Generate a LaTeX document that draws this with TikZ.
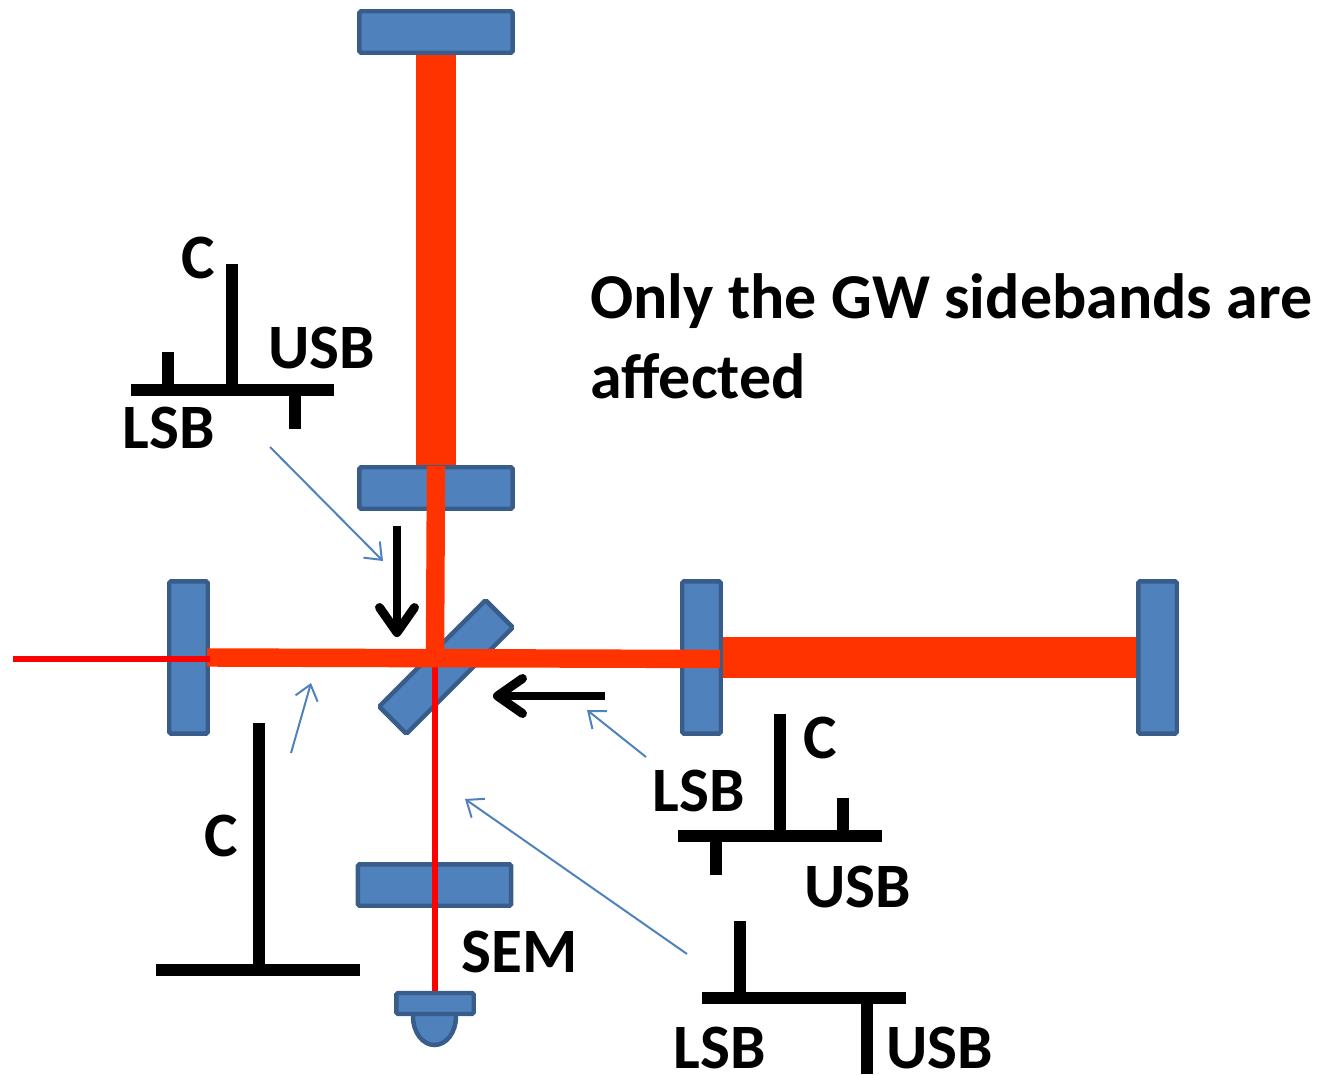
\documentclass[tikz,border=0pt]{standalone}
\usepackage{fontspec}
\setmainfont{Carlito}
\usetikzlibrary{arrows.meta}
\definecolor{mirrorfill}{HTML}{4F81BD}
\definecolor{mirrorline}{HTML}{385D8A}
\definecolor{beamorange}{HTML}{FF3300}
\begin{document}
\begin{tikzpicture}[
    x=0.02cm, y=-0.02cm,
    mirror/.style={rectangle, draw=mirrorline, fill=mirrorfill, line width=4.5*0.567pt, inner sep=0pt, rounded corners=1pt},
    hmirror/.style={mirror, minimum width=3.07cm, minimum height=0.83cm},
    vmirror/.style={mirror, minimum width=0.77cm, minimum height=3.05cm},
    armbeam/.style={beamorange, line width=41*0.567pt},
    cavbeam/.style={beamorange, line width=18.5*0.567pt},
    thinbeam/.style={red, line width=6*0.567pt},
    spec/.style={black, line width=11.5*0.567pt},
    bigarrow/.style={-{Straight Barb[length=5mm, width=7mm, round]}, black, line width=9*0.567pt},
    pointer/.style={-{Straight Barb[length=2.9mm, width=4.6mm]}, mirrorfill, line width=2*0.567pt},
    label/.style={font=\fontsize{36}{42}\selectfont\bfseries, inner sep=0pt},
    note/.style={font=\fontsize{36.4}{42}\selectfont\bfseries, inner sep=0pt, anchor=west}
]
\useasboundingbox (0,0) rectangle (1320,1075);

% Mirrors
\node[hmirror] (etmy) at (436,32) {};
\node[hmirror] (itmy) at (436,488) {};
\node[hmirror] (srm) at (434.5,885) {};
\node[vmirror] (prm) at (188.5,657.5) {};
\node[vmirror] (itmx) at (701.5,657.5) {};
\node[vmirror] (etmx) at (1157.5,657.5) {};
\node[mirror, minimum width=3.01cm, minimum height=0.77cm, rotate=45] (bs) at (446,667) {};

% Photodiode
\draw[mirror, rounded corners=0pt] (413,1010) -- (413,1016) .. controls (413,1033) and (423,1045) .. (434.5,1045) .. controls (446,1045) and (456,1033) .. (456,1016) -- (456,1010) -- cycle;
\node[mirror, minimum width=1.55cm, minimum height=0.42cm] (pd) at (435,1003.5) {};

% Beams
\coordinate (input) at (13,659);
\coordinate (bsc) at (435,658);
\coordinate (prmout) at (207,657.5);
\coordinate (itmin) at (720,659);
\draw[armbeam] (etmy.south) -- (itmy.north);
\draw[armbeam] (itmx.east) -- (etmx.west);
\draw[thinbeam] (bsc) -- (bsc |- pd.north);
\draw[cavbeam] (436,466) -- (bsc);
\draw[cavbeam] (prmout) -- (itmin);
\draw[thinbeam] (input) -- (prm.east |- input);

% Sideband spectra, top left
\coordinate (ul) at (131,390);
\coordinate (ur) at (334,390);
\draw[spec] (ul) -- (ur);
\draw[spec] (232,390) -- (232,264);
\draw[spec] (168,390) -- (168,352);
\draw[spec] (295,390) -- (295,429);
\node[label] (ca) at (198,258) {C};
\node[label] (usba) at (322,348) {USB};
\node[label] (lsba) at (169,428) {LSB};

% Right of the splitter
\draw[spec] (678,836) -- (882,836);
\draw[spec] (780,836) -- (780,714);
\draw[spec] (716,836) -- (716,875);
\draw[spec] (843,836) -- (843,798);
\node[label] (cb) at (820,738) {C};
\node[label] (lsbb) at (699,791) {LSB};
\node[label] (usbb) at (858,887) {USB};

% Carrier only
\draw[spec] (156,970) -- (360,970);
\draw[spec] (259,970) -- (259,723);
\node[label] (cc) at (221,836) {C};

% Dark port
\draw[spec] (702,998) -- (906,998);
\draw[spec] (740,998) -- (740,921);
\draw[spec] (867,998) -- (867,1074);
\node[label] (lsbd) at (720,1048) {LSB};
\node[label] (usbd) at (940,1048) {USB};

% Propagation arrows
\coordinate (downa) at (397,526);
\coordinate (downb) at (397,637);
\coordinate (lefta) at (605,696);
\coordinate (leftb) at (493,696);
\draw[bigarrow] (downa) -- (downb);
\draw[bigarrow] (lefta) -- (leftb);

% Pointers
\coordinate (pa) at (270,447);
\coordinate (pb) at (383,561);
\coordinate (pc) at (646,757);
\coordinate (pd1) at (587,710);
\coordinate (pe) at (687,954);
\coordinate (pf) at (465,799);
\coordinate (pg) at (291,753);
\coordinate (ph) at (311,683);
\draw[pointer] (pa) -- (pb);
\draw[pointer] (pc) -- (pd1);
\draw[pointer] (pe) -- (pf);
\draw[pointer] (pg) -- (ph);

% Labels
\node[label] (sem) at (520,952) {SEM};
\node[note] (notea) at (590,301) {Only the GW sidebands are};
\node[note] (noteb) at (590,376) {affected};
\end{tikzpicture}
\end{document}
